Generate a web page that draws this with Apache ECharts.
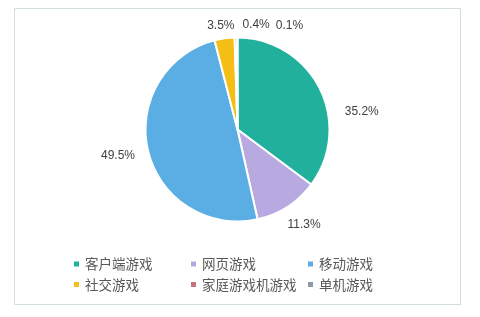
<!DOCTYPE html>
<html>
<head>
<meta charset="utf-8">
<script src="https://cdn.jsdelivr.net/npm/echarts@6/dist/echarts.min.js"></script>
<style>
  html, body { margin: 0; padding: 0; background: #ffffff; }
  #chart { width: 480px; height: 317px; }
</style>
</head>
<body>
<div id="chart"></div>
<script>
// Share of game market revenue by segment (%)
const categories = ['客户端游戏', '网页游戏', '移动游戏', '社交游戏', '家庭游戏机游戏', '单机游戏'];
const shares = [35.2, 11.3, 49.5, 3.5, 0.4, 0.1];
const colors = ['#20B09C', '#B8A9E0', '#5AAEE3', '#F4BE17', '#C8737C', '#8B99AB'];

// Per-label nudges (dx, dy) from the default outside anchor
const labelNudges = [[25, 23], [0, 18], [-13, 5], [10, -13], [34, -12.5], [66, -11.5]];

const pieData = categories.map((name, i) => ({
  name: name,
  value: shares[i],
  itemStyle: { color: colors[i] }
}));

const legendText = {
  color: '#595959',
  fontFamily: '"Noto Sans CJK SC", sans-serif',
  fontSize: 13.5,
  width: 98,
  lineHeight: 14
};

const legendBase = {
  orient: 'horizontal',
  padding: 0,
  itemWidth: 7, itemHeight: 7, itemGap: 6,
  icon: 'rect',
  textStyle: legendText,
  selectedMode: false
};

const chart = echarts.init(document.getElementById('chart'), null, { renderer: 'canvas' });
chart.setOption({
  animation: false,
  backgroundColor: '#ffffff',
  graphic: [{
    type: 'rect',
    shape: { x: 14.5, y: 8.5, width: 446, height: 296 },
    style: { fill: 'none', stroke: '#d3dede', lineWidth: 1 },
    silent: true
  }],
  legend: [
    Object.assign({ data: categories.slice(0, 3), left: 72, top: 257 }, legendBase),
    Object.assign({ data: categories.slice(3), left: 72, top: 277.5 }, legendBase)
  ],
  series: [{
    type: 'pie',
    center: [237.5, 129.5],
    radius: 92,
    startAngle: 90,
    clockwise: true,
    avoidLabelOverlap: false,
    minShowLabelAngle: 0,
    itemStyle: { borderColor: '#ffffff', borderWidth: 2 },
    label: {
      show: true,
      position: 'outside',
      distanceToLabelLine: 0,
      color: '#404040',
      fontFamily: '"Liberation Sans", Arial, sans-serif',
      fontSize: 12,
      formatter: p => p.value.toFixed(1) + '%'
    },
    labelLine: { show: false, length: 0, length2: 0 },
    labelLayout: p => ({ dx: labelNudges[p.dataIndex][0], dy: labelNudges[p.dataIndex][1] }),
    emphasis: { disabled: true },
    data: pieData
  }]
});
</script>
</body>
</html>
